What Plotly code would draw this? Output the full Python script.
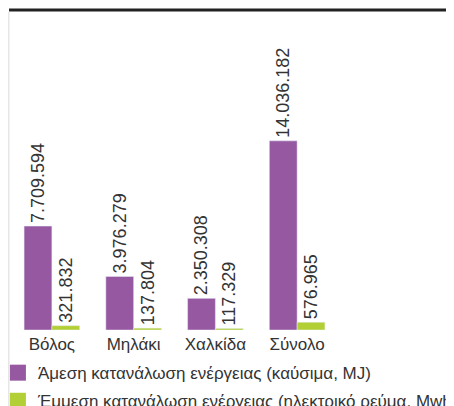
import plotly.graph_objects as go

categories = ["Βόλος", "Μηλάκι", "Χαλκίδα", "Σύνολο"]
direct_mj = [7709594, 3976279, 2350308, 14036182]
indirect_mwh = [321832, 137804, 117329, 576965]
direct_labels = ["7.709.594", "3.976.279", "2.350.308", "14.036.182"]
indirect_labels = ["321.832", "137.804", "117.329", "576.965"]
series_names = ["Άμεση κατανάλωση ενέργειας (καύσιμα, MJ)",
                "Έμμεση κατανάλωση ενέργειας (ηλεκτρικό ρεύμα, Mwh)"]

PURPLE = "#9658a1"
GREEN = "#b3cf36"
FONT = "Liberation Sans, Arial, sans-serif"

fig = go.Figure()
for vals, labels, col in [(direct_mj, direct_labels, PURPLE),
                          (indirect_mwh, indirect_labels, GREEN)]:
    fig.add_bar(x=categories, y=vals, text=labels, marker_color=col,
                textposition="outside", textangle=-90, cliponaxis=False,
                constraintext="none",
                textfont=dict(size=18, color="#333333", family=FONT),
                showlegend=False, hoverinfo="skip")
for i, (name, col) in enumerate(zip(series_names, [PURPLE, GREEN])):
    fig.add_scatter(x=[None], y=[None], mode="markers", name=name,
                    legendgroup=f"g{i}",
                    marker=dict(symbol="square", size=16, color=col))

fig.update_layout(
    width=446, height=398,
    margin=dict(l=3, r=116, t=4, b=76, autoexpand=False),
    paper_bgcolor="white", plot_bgcolor="white",
    barmode="group", bargap=0.32, bargroupgap=0,
    font=dict(family=FONT, color="#333333"),
    xaxis=dict(showgrid=False, zeroline=False, showline=False, ticks="",
               ticklabelstandoff=2,
               tickfont=dict(size=17, color="#333333")),
    yaxis=dict(visible=False, range=[0, 23.6e6]),
    legend=dict(x=-0.04, y=-0.079, xanchor="left", yanchor="top",
                font=dict(size=17, color="#333333"), tracegroupgap=3,
                bgcolor="rgba(0,0,0,0)"),
)
fig.add_shape(type="line", xref="paper", yref="paper", x0=-0.006, x1=1.349,
              y0=1.0065, y1=1.0065, layer="above",
              line=dict(color="#222222", width=3))
fig.add_shape(type="line", xref="paper", yref="paper", x0=-0.0076, x1=-0.0076,
              y0=-0.3, y1=1.0, line=dict(color="#e6e6e6", width=2))
fig.write_html("out.html")
